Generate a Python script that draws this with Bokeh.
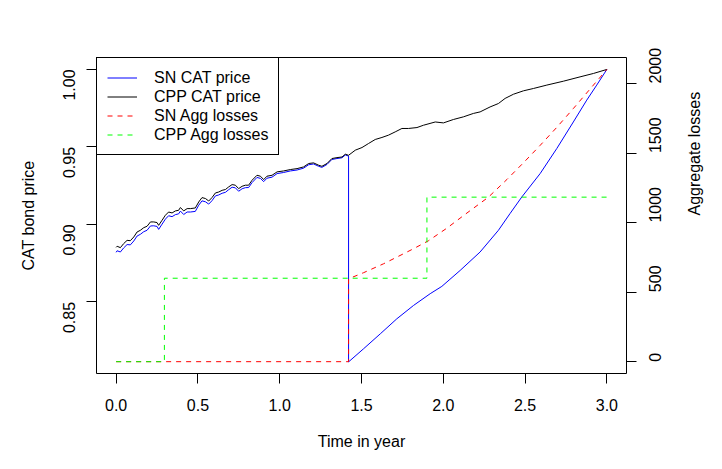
import math
from bokeh.plotting import figure
from bokeh.models import (Range1d, LinearAxis, FixedTicker, NumeralTickFormatter,
                          Legend, LegendItem)
from bokeh.embed import file_html
from bokeh.resources import INLINE

# ---- data ----
cpp_t = [0.0, 0.006, 0.026, 0.046, 0.067, 0.087, 0.108, 0.128, 0.148, 0.169, 0.189,
         0.210, 0.230, 0.250, 0.260, 0.281, 0.301, 0.321, 0.342, 0.362, 0.382, 0.393,
         0.413, 0.434, 0.454, 0.484, 0.505, 0.525, 0.546, 0.566, 0.586, 0.607, 0.627,
         0.648, 0.668, 0.688, 0.709, 0.729, 0.749, 0.770, 0.790, 0.810, 0.831, 0.861,
         0.882, 0.902, 0.922, 0.953, 0.984, 1.024, 1.065, 1.106, 1.146, 1.177, 1.207,
         1.238, 1.258, 1.289, 1.319, 1.350, 1.381, 1.401, 1.421, 1.462, 1.503, 1.543,
         1.584, 1.625, 1.665, 1.706, 1.747, 1.787, 1.839, 1.879, 1.951, 2.001, 2.062,
         2.123, 2.184, 2.225, 2.286, 2.337, 2.378, 2.429, 2.490, 2.551, 2.633, 2.734,
         2.836, 2.918, 3.0]
cpp_price = [0.8852, 0.8859, 0.8850, 0.8876, 0.8897, 0.8895, 0.8919, 0.8951, 0.8962,
             0.8979, 0.8988, 0.9016, 0.9016, 0.9012, 0.8994, 0.9027, 0.9059, 0.9080,
             0.9074, 0.9087, 0.9091, 0.9109, 0.9087, 0.9102, 0.9102, 0.9106, 0.9145,
             0.9173, 0.9167, 0.9151, 0.9173, 0.9203, 0.9209, 0.9220, 0.9225, 0.9242,
             0.9257, 0.9253, 0.9231, 0.9246, 0.9253, 0.9253, 0.9285, 0.9317, 0.9311,
             0.9289, 0.9311, 0.9317, 0.9339, 0.9345, 0.9354, 0.9360, 0.9371, 0.9393,
             0.9397, 0.9382, 0.9375, 0.9393, 0.9425, 0.9431, 0.9435, 0.9453, 0.9446,
             0.9479, 0.9496, 0.9522, 0.9548, 0.9561, 0.9576, 0.9597, 0.9619, 0.9619,
             0.9625, 0.9640, 0.9661, 0.9655, 0.9677, 0.9694, 0.9716, 0.9726, 0.9758,
             0.9780, 0.9813, 0.9840, 0.9862, 0.9877, 0.9899, 0.9924, 0.9952, 0.9974,
             1.0]

sn_t = [0.0, 0.006, 0.026, 0.046, 0.067, 0.087, 0.108, 0.128, 0.148, 0.169, 0.189,
        0.210, 0.230, 0.250, 0.260, 0.281, 0.301, 0.321, 0.342, 0.362, 0.382, 0.393,
        0.413, 0.434, 0.454, 0.484, 0.505, 0.525, 0.546, 0.566, 0.586, 0.607, 0.627,
        0.648, 0.668, 0.688, 0.709, 0.729, 0.749, 0.770, 0.790, 0.810, 0.831, 0.861,
        0.882, 0.902, 0.922, 0.953, 0.984, 1.024, 1.065, 1.106, 1.146, 1.177, 1.207,
        1.238, 1.258, 1.289, 1.319, 1.350, 1.381, 1.401, 1.421,
        1.421, 1.513, 1.615, 1.716, 1.818, 1.920, 1.991, 2.103, 2.225, 2.337, 2.408,
        2.480, 2.592, 2.694, 2.795, 2.877, 2.938, 3.0]
sn_price = [0.8820, 0.8830, 0.8822, 0.8848, 0.8870, 0.8868, 0.8893, 0.8925, 0.8936,
            0.8953, 0.8962, 0.8990, 0.8991, 0.8987, 0.8968, 0.9002, 0.9034, 0.9056,
            0.9050, 0.9063, 0.9068, 0.9086, 0.9064, 0.9080, 0.9080, 0.9084, 0.9124,
            0.9152, 0.9146, 0.9131, 0.9153, 0.9184, 0.9190, 0.9201, 0.9207, 0.9224,
            0.9240, 0.9236, 0.9214, 0.9230, 0.9237, 0.9238, 0.9270, 0.9303, 0.9297,
            0.9276, 0.9298, 0.9305, 0.9328, 0.9335, 0.9345, 0.9351, 0.9363, 0.9385,
            0.9390, 0.9375, 0.9368, 0.9387, 0.9419, 0.9425, 0.9430, 0.9448, 0.9441,
            0.8113, 0.8198, 0.8294, 0.8391, 0.8477, 0.8553, 0.8600, 0.8703, 0.8822,
            0.8962, 0.9070, 0.9177, 0.9328, 0.9490, 0.9661, 0.9802, 0.9899, 1.0]

sn_loss_t = [0.0, 1.421, 1.421, 1.513, 1.635, 1.818, 1.910, 2.022, 2.123, 2.276,
             2.389, 2.490, 2.592, 2.694, 2.795, 2.897, 3.0]
sn_loss = [0, 0, 596, 640, 704, 812, 870, 960, 1050, 1183, 1310, 1430, 1555, 1685,
           1820, 1960, 2101]

cpp_loss_t = [0.0, 0.295, 1.900, 3.0]
cpp_loss = [0, 600, 1183, 1183]

x_ticks = [0.0, 0.5, 1.0, 1.5, 2.0, 2.5, 3.0]
price_ticks = [0.85, 0.90, 0.95, 1.00]
loss_ticks = [0, 500, 1000, 1500, 2000]

FONT = "Liberation Sans"

p = figure(width=722, height=469, output_backend="svg", toolbar_location=None,
           x_range=Range1d(-0.12, 3.12), y_range=Range1d(0.8038, 1.0077),
           min_border_left=96, min_border_right=96, min_border_top=57,
           min_border_bottom=96)
p.extra_y_ranges = {"agg": Range1d(-85, 2187)}
p.grid.visible = False
p.outline_line_color = "black"
p.outline_line_width = 1
p.outline_line_alpha = 1
p.background_fill_color = "white"
p.border_fill_color = "white"

ax_right = LinearAxis(y_range_name="agg")
p.add_layout(ax_right, "right")

def style(ax, ticks, fmt, label, orient, lab_standoff, ax_standoff):
    ax.ticker = FixedTicker(ticks=ticks)
    ax.formatter = NumeralTickFormatter(format=fmt)
    ax.axis_label = label
    ax.axis_line_color = None
    ax.major_tick_out = 10
    ax.major_tick_in = 0
    ax.minor_tick_line_color = None
    ax.major_tick_line_color = "black"
    ax.major_label_text_font = FONT
    ax.major_label_text_font_size = "16px"
    ax.major_label_text_color = "black"
    ax.major_label_orientation = orient
    ax.major_label_standoff = lab_standoff
    ax.axis_label_text_font = FONT
    ax.axis_label_text_font_size = "16px"
    ax.axis_label_text_font_style = "normal"
    ax.axis_label_text_color = "black"
    ax.axis_label_standoff = ax_standoff

style(p.xaxis[0], x_ticks, "0.0", "Time in year", "horizontal", 15, 19)
style(p.yaxis[0], price_ticks, "0.00", "CAT bond price", math.pi / 2, 17, 18)
style(ax_right, loss_ticks, "0", "Aggregate losses", math.pi / 2, 19, 24)
ax_right.axis_label_orientation = math.pi / 2

r_sn = p.line(sn_t, sn_price, line_color="#0000FF", line_width=1)
r_cpp = p.line(cpp_t, cpp_price, line_color="black", line_width=1)
r_snl = p.line(sn_loss_t, sn_loss, line_color="#FF0000", line_width=1,
               line_dash="5 5", y_range_name="agg")
r_cppl = p.step(cpp_loss_t, cpp_loss, mode="after", line_color="#00FF00",
                line_width=1, line_dash="5 5", y_range_name="agg")

legend = Legend(items=[
    LegendItem(label="SN CAT price", renderers=[r_sn]),
    LegendItem(label="CPP CAT price", renderers=[r_cpp]),
    LegendItem(label="SN Agg losses", renderers=[r_snl]),
    LegendItem(label="CPP Agg losses", renderers=[r_cppl]),
], location="top_left")
legend.margin = 0
legend.padding = 10
legend.spacing = 0
legend.label_height = 19
legend.glyph_height = 19
legend.glyph_width = 30
legend.label_standoff = 17
legend.label_text_font = FONT
legend.label_text_font_size = "16px"
legend.label_text_color = "black"
legend.border_line_color = "black"
legend.border_line_width = 1
legend.border_line_alpha = 1
legend.background_fill_color = "white"
legend.background_fill_alpha = 1
p.add_layout(legend, "center")

open("out.html", "w").write(file_html(p, INLINE))
